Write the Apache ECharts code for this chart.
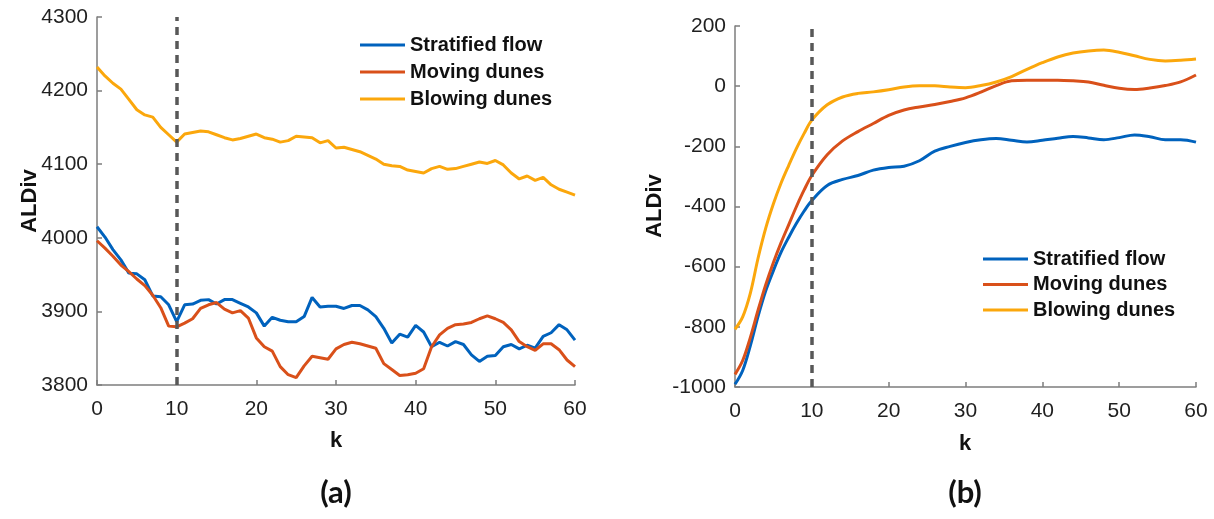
<!DOCTYPE html>
<html>
<head>
<meta charset="utf-8">
<script src="https://cdn.jsdelivr.net/npm/echarts@6/dist/echarts.min.js"></script>
<style>
  html, body { margin: 0; padding: 0; background: #fff; }
  #chart { width: 1214px; height: 519px; }
</style>
</head>
<body>
<div id="chart"></div>
<script>
// ---- Panel (a): ALDiv per k, k = 0..60 ----
const seriesNames = ['Stratified flow', 'Moving dunes', 'Blowing dunes'];
const kA = [];
for (let k = 0; k <= 60; k++) kA.push(k);

const stratifiedA = [4015, 4001, 3984, 3970, 3952, 3951, 3943, 3921, 3920, 3909,
  3886, 3909, 3910, 3915, 3916, 3910, 3916, 3916, 3911, 3906,
  3898, 3880, 3892, 3888, 3886, 3886, 3893, 3919, 3906, 3907,
  3907, 3904, 3908, 3908, 3902, 3893, 3877, 3857, 3869, 3865,
  3881, 3872, 3852, 3858, 3853, 3859, 3855, 3841, 3832, 3839,
  3840, 3852, 3855, 3849, 3854, 3850, 3866, 3871, 3882, 3875, 3861];

const movingA = [3996, 3986, 3975, 3963, 3954, 3944, 3935, 3922, 3905, 3880,
  3879, 3884, 3890, 3904, 3909, 3912, 3903, 3898, 3901, 3891,
  3864, 3852, 3846, 3825, 3814, 3810, 3826, 3839, 3837, 3835,
  3849, 3855, 3858, 3856, 3853, 3850, 3829, 3821, 3813, 3814,
  3816, 3822, 3852, 3868, 3877, 3882, 3883, 3885, 3890, 3894,
  3890, 3885, 3875, 3859, 3852, 3847, 3856, 3856, 3848, 3834, 3825];

const blowingA = [4232, 4220, 4210, 4202, 4188, 4174, 4167, 4164, 4150, 4140,
  4130, 4141, 4143, 4145, 4144, 4140, 4136, 4133, 4135, 4138,
  4141, 4136, 4134, 4130, 4132, 4138, 4137, 4136, 4129, 4132,
  4122, 4123, 4120, 4117, 4112, 4107, 4100, 4098, 4097, 4092,
  4090, 4088, 4094, 4097, 4093, 4094, 4097, 4100, 4103, 4101,
  4105, 4099, 4088, 4080, 4084, 4078, 4082, 4072, 4066, 4062, 4058];

// ---- Panel (b): ALDiv per k (smooth curves) ----
const kB = [0, 1, 2, 3, 4, 5, 6, 7, 8, 9, 10, 12, 14, 16, 18, 20, 22, 24, 26, 28,
  30, 32, 34, 36, 38, 40, 42, 44, 46, 48, 50, 52, 54, 56, 58, 60];

const stratifiedB = [-991, -945, -862, -765, -680, -613, -552, -502, -456, -415,
  -380, -330, -310, -297, -279, -270, -266, -248, -216, -200,
  -187, -178, -174, -180, -186, -180, -173, -167, -172, -178,
  -171, -162, -168, -178, -178, -186];

const movingB = [-958, -912, -835, -745, -660, -586, -520, -460, -400, -345,
  -297, -228, -182, -151, -124, -97, -79, -69, -61, -51,
  -39, -20, 2, 18, 20, 20, 20, 18, 14, 3,
  -7, -11, -6, 2, 14, 37];

const blowingB = [-808, -767, -688, -572, -472, -391, -322, -263, -207, -157,
  -113, -62, -36, -24, -19, -12, -3, 1, 1, -3,
  -5, 2, 14, 32, 56, 78, 97, 110, 117, 120,
  113, 101, 89, 84, 86, 90];

const yTicksA = { min: 3800, max: 4300, interval: 100 };
const yTicksB = { min: -1000, max: 200, interval: 200 };
const xTicks = { min: 0, max: 60, interval: 10 };
const markerK = 10;

const colors = ['#0062BD', '#D9501A', '#FBA70C'];
const axisGray = '#7d7d7d';
const textDark = '#1f1f1f';
const sansFont = '"Liberation Sans", Arial, sans-serif';

function pairs(ks, vs) { return ks.map((k, i) => [k, vs[i]]); }
const plainNumber = v => String(v);

function xAxisOf(gridIndex) {
  return {
    type: 'value', gridIndex, min: xTicks.min, max: xTicks.max, interval: xTicks.interval,
    axisLine: { show: true, onZero: false, lineStyle: { color: axisGray, width: 1.5 } },
    axisTick: { show: true, inside: true, length: 5, lineStyle: { color: axisGray, width: 1.5 } },
    axisLabel: { color: textDark, fontSize: 21, fontFamily: sansFont, margin: 14, formatter: plainNumber },
    splitLine: { show: false }
  };
}
function yAxisOf(gridIndex, t) {
  return {
    type: 'value', gridIndex, min: t.min, max: t.max, interval: t.interval,
    axisLine: { show: true, onZero: false, lineStyle: { color: axisGray, width: 1.5 } },
    axisTick: { show: true, inside: true, length: 5, lineStyle: { color: axisGray, width: 1.5 } },
    axisLabel: { color: textDark, fontSize: 21, fontFamily: sansFont, margin: 9, formatter: plainNumber },
    splitLine: { show: false }
  };
}

const dashLine = {
  silent: true, symbol: ['none', 'none'], label: { show: false },
  lineStyle: { color: '#585858', width: 3.5, type: [8, 6] },
  emphasis: { disabled: true },
  data: [{ xAxis: markerK }]
};

function lineSeries(name, idx, data, smooth, withMarker) {
  const s = {
    name, type: 'line', xAxisIndex: idx, yAxisIndex: idx, data,
    showSymbol: false, smooth, animation: false,
    lineStyle: { color: colors[seriesNames.indexOf(name)], width: 3 },
    itemStyle: { color: colors[seriesNames.indexOf(name)] },
    z: 2
  };
  if (withMarker) { s.markLine = dashLine; }
  return s;
}

const legendBase = {
  orient: 'vertical', icon: 'rect', itemWidth: 45, itemHeight: 3,
  selectedMode: false, data: seriesNames,
  textStyle: { fontSize: 20, fontWeight: 'bold', fontFamily: sansFont, color: '#111', lineHeight: 20, padding: [0, 0, 0, 0] },
  padding: 0
};

const titleFont = { fontFamily: sansFont, fontWeight: 'bold', fill: '#111' };

const chart = echarts.init(document.getElementById('chart'), null, { renderer: 'canvas' });
chart.setOption({
  backgroundColor: '#ffffff',
  animation: false,
  grid: [
    { left: 97, top: 17, width: 478, height: 368 },
    { left: 735, top: 26, width: 461, height: 361 }
  ],
  xAxis: [xAxisOf(0), xAxisOf(1)],
  yAxis: [yAxisOf(0, yTicksA), yAxisOf(1, yTicksB)],
  legend: [
    Object.assign({}, legendBase, { left: 360, top: 35, itemGap: 7 }),
    Object.assign({}, legendBase, { left: 983, top: 249, itemGap: 5.5 })
  ],
  series: [
    lineSeries('Stratified flow', 0, pairs(kA, stratifiedA), false, true),
    lineSeries('Moving dunes', 0, pairs(kA, movingA), false, false),
    lineSeries('Blowing dunes', 0, pairs(kA, blowingA), false, false),
    lineSeries('Stratified flow', 1, pairs(kB, stratifiedB), 0.35, true),
    lineSeries('Moving dunes', 1, pairs(kB, movingB), 0.35, false),
    lineSeries('Blowing dunes', 1, pairs(kB, blowingB), 0.35, false)
  ],
  graphic: [
    { type: 'text', x: 30, y: 201, rotation: Math.PI / 2,
      style: Object.assign({ text: 'ALDiv', fontSize: 22, align: 'center', verticalAlign: 'middle' }, titleFont) },
    { type: 'text', x: 655, y: 206, rotation: Math.PI / 2,
      style: Object.assign({ text: 'ALDiv', fontSize: 22, align: 'center', verticalAlign: 'middle' }, titleFont) },
    { type: 'text', x: 336, y: 441,
      style: Object.assign({ text: 'k', fontSize: 22, align: 'center', verticalAlign: 'middle' }, titleFont) },
    { type: 'text', x: 965, y: 444,
      style: Object.assign({ text: 'k', fontSize: 22, align: 'center', verticalAlign: 'middle' }, titleFont) },
    { type: 'text', x: 336, y: 493,
      style: { text: '(a)', fontSize: 31, fontFamily: 'Lato, "Open Sans", sans-serif', fontWeight: 'bold', fill: '#111', align: 'center', verticalAlign: 'middle' } },
    { type: 'text', x: 965, y: 493,
      style: { text: '(b)', fontSize: 31, fontFamily: 'Lato, "Open Sans", sans-serif', fontWeight: 'bold', fill: '#111', align: 'center', verticalAlign: 'middle' } }
  ]
});
</script>
</body>
</html>
